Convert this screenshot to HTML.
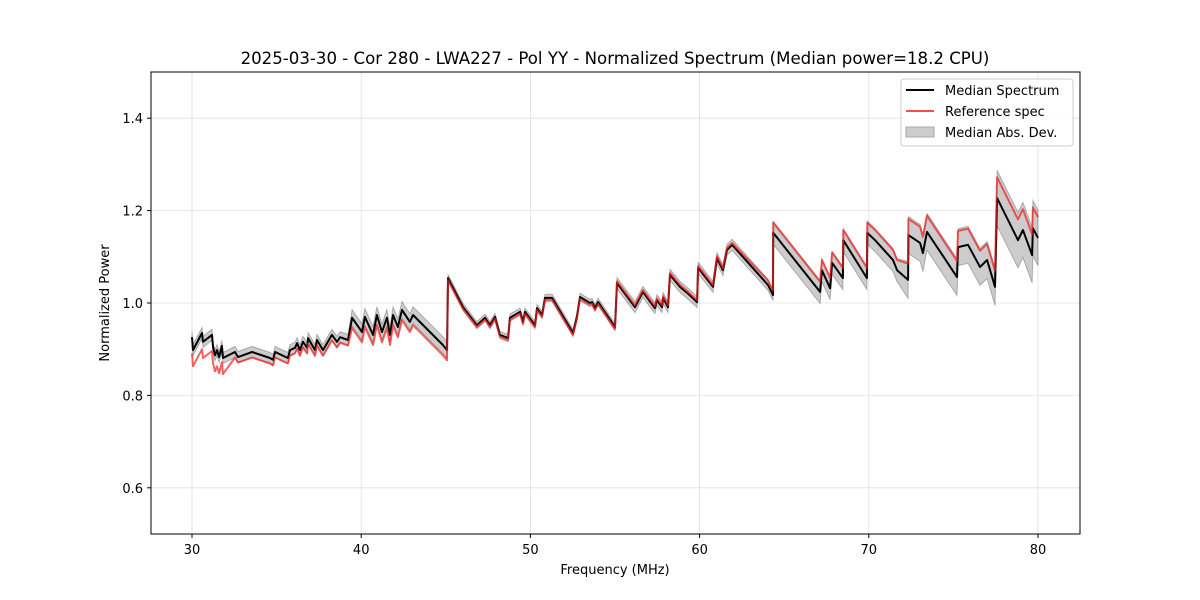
<!DOCTYPE html>
<html><head><meta charset="utf-8"><style>
body{margin:0;background:#fff}
svg{display:block;font-family:"DejaVu Sans","Liberation Sans",sans-serif}
</style></head><body>
<svg id="chart" width="1200" height="600" viewBox="0 0 1200 600">
<rect width="1200" height="600" fill="#fff"/>
<g id="grid"></g>
<g id="series"></g>
<rect x="151" y="72" width="929" height="462" fill="none" stroke="#000" stroke-width="1"/>
<g id="ticks"></g>
<text x="615" y="64" text-anchor="middle" font-size="16.6">2025-03-30 - Cor 280 - LWA227 - Pol YY - Normalized Spectrum (Median power=18.2 CPU)</text>
<text x="615" y="574" text-anchor="middle" font-size="13">Frequency (MHz)</text>
<text x="109" y="303" text-anchor="middle" font-size="13" transform="rotate(-90 109 303)">Normalized Power</text>
<g>
<rect x="901" y="79" width="172" height="67" rx="3" fill="#fff" fill-opacity="0.8" stroke="#ccc"/>
<g><line x1="906" y1="90" x2="934" y2="90" stroke="#000" stroke-width="2"/><text x="945" y="95" font-size="13">Median Spectrum</text></g>
<g><line x1="906" y1="111" x2="934" y2="111" stroke="#f05050" stroke-width="2"/><text x="945" y="116" font-size="13">Reference spec</text></g>
<g><rect x="906" y="127" width="28" height="10" fill="#ccc" stroke="#aaa"/><text x="945" y="137" font-size="13">Median Abs. Dev.</text></g>
</g>
</svg>
<script>
const freqs=[30.00,30.06,30.59,30.65,31.18,31.24,31.36,31.48,31.60,31.77,31.83,32.54,32.72,33.55,34.61,34.79,34.91,35.67,35.79,36.09,36.21,36.38,36.56,36.80,36.86,37.27,37.39,37.74,38.27,38.57,38.75,39.22,39.46,40.05,40.22,40.70,40.93,41.23,41.52,41.70,41.88,42.17,42.41,42.88,43.06,44.83,45.07,45.13,46.02,46.84,47.32,47.61,47.91,48.20,48.68,48.79,49.39,49.56,49.68,50.27,50.39,50.69,50.86,51.28,52.52,52.75,52.93,53.52,53.64,53.82,54.00,55.00,55.12,56.18,56.65,57.36,57.48,57.78,57.84,58.13,58.25,58.84,59.26,59.85,59.91,60.79,61.03,61.38,61.62,61.92,64.04,64.34,64.35,67.12,67.23,67.71,67.83,68.47,68.49,69.89,69.91,70.37,71.43,71.67,72.32,72.34,73.03,73.20,73.44,75.21,75.27,75.86,76.57,76.99,77.46,77.58,78.82,79.11,79.65,79.70,80.00];
const median=[0.926,0.898,0.935,0.916,0.931,0.905,0.887,0.898,0.883,0.907,0.881,0.894,0.883,0.894,0.881,0.877,0.894,0.881,0.898,0.903,0.913,0.898,0.916,0.903,0.924,0.898,0.920,0.898,0.931,0.916,0.926,0.920,0.968,0.937,0.970,0.931,0.974,0.937,0.968,0.931,0.974,0.948,0.985,0.959,0.974,0.909,0.898,1.054,0.991,0.952,0.968,0.952,0.970,0.931,0.924,0.968,0.981,0.959,0.981,0.952,0.989,0.974,1.011,1.011,0.935,0.970,1.013,1.000,1.002,0.989,1.002,0.948,1.043,0.991,1.024,0.989,1.006,0.991,1.011,0.991,1.061,1.035,1.022,1.002,1.076,1.035,1.097,1.071,1.115,1.126,1.039,1.017,1.152,1.024,1.071,1.032,1.087,1.054,1.136,1.054,1.152,1.136,1.093,1.071,1.050,1.147,1.130,1.108,1.154,1.056,1.121,1.126,1.078,1.093,1.035,1.227,1.136,1.158,1.104,1.162,1.141];
const reference=[0.891,0.863,0.900,0.881,0.896,0.870,0.852,0.863,0.848,0.872,0.846,0.882,0.871,0.882,0.869,0.865,0.882,0.869,0.886,0.891,0.901,0.886,0.904,0.891,0.912,0.886,0.908,0.886,0.919,0.904,0.914,0.908,0.946,0.915,0.948,0.909,0.952,0.915,0.946,0.909,0.952,0.926,0.963,0.937,0.952,0.887,0.876,1.050,0.987,0.948,0.964,0.948,0.966,0.927,0.920,0.964,0.977,0.955,0.977,0.948,0.985,0.970,1.007,1.007,0.931,0.966,1.009,0.996,0.998,0.985,0.998,0.944,1.047,0.995,1.028,0.993,1.010,0.995,1.015,0.995,1.065,1.039,1.026,1.006,1.080,1.039,1.101,1.075,1.119,1.130,1.049,1.027,1.174,1.046,1.093,1.054,1.109,1.076,1.158,1.076,1.174,1.158,1.115,1.093,1.085,1.182,1.165,1.143,1.189,1.091,1.156,1.161,1.113,1.128,1.070,1.272,1.181,1.203,1.149,1.207,1.186];
const mad=[0.012,0.012,0.012,0.012,0.012,0.012,0.012,0.012,0.012,0.012,0.012,0.012,0.012,0.012,0.012,0.012,0.012,0.012,0.012,0.012,0.012,0.012,0.012,0.012,0.012,0.012,0.012,0.012,0.012,0.012,0.012,0.012,0.018,0.018,0.018,0.018,0.018,0.018,0.018,0.018,0.018,0.018,0.018,0.018,0.018,0.018,0.018,0.008,0.008,0.008,0.008,0.008,0.008,0.008,0.008,0.008,0.008,0.008,0.008,0.008,0.008,0.008,0.008,0.008,0.008,0.008,0.008,0.008,0.008,0.008,0.008,0.008,0.012,0.012,0.012,0.012,0.012,0.012,0.012,0.012,0.012,0.012,0.012,0.012,0.012,0.012,0.012,0.012,0.012,0.012,0.012,0.012,0.025,0.025,0.025,0.025,0.025,0.025,0.025,0.025,0.025,0.025,0.025,0.025,0.04,0.04,0.04,0.04,0.04,0.04,0.04,0.04,0.04,0.04,0.04,0.06,0.06,0.06,0.06,0.06,0.06];
const xTicks=[30,40,50,60,70,80];
const yTicks=[0.6,0.8,1.0,1.2,1.4];
const yTickLabels=["0.6","0.8","1.0","1.2","1.4"];

const NS='http://www.w3.org/2000/svg';
const X=f=>192+(f-30)*(1038-192)/50;
const Y=v=>534-(v-0.5)*462;
function mk(tag,attrs,parent){const e=document.createElementNS(NS,tag);for(const k in attrs)e.setAttribute(k,attrs[k]);parent.appendChild(e);return e;}
const grid=document.getElementById('grid'),ticks=document.getElementById('ticks'),ser=document.getElementById('series');
xTicks.forEach(t=>{
  const g=mk('line',{x1:X(t),x2:X(t),y1:72,y2:534,stroke:'#e0e0e0','stroke-width':0.8},grid);
  
  
  mk('line',{x1:X(t),x2:X(t),y1:534,y2:538,stroke:'#000'},ticks);
  const l=mk('text',{x:X(t),y:554,'text-anchor':'middle','font-size':13},ticks);
  l.textContent=t;
  
  
});
yTicks.forEach((t,i)=>{
  const g=mk('line',{x1:151,x2:1080,y1:Y(t),y2:Y(t),stroke:'#e0e0e0','stroke-width':0.8},grid);
  
  
  mk('line',{x1:147,x2:151,y1:Y(t),y2:Y(t),stroke:'#000'},ticks);
  const l=mk('text',{x:143,y:Y(t)+5,'text-anchor':'end','font-size':13},ticks);
  l.textContent=yTickLabels[i];
  
  
});
let up=freqs.map((f,i)=>X(f).toFixed(1)+','+Y(median[i]+mad[i]).toFixed(1));
let dn=freqs.map((f,i)=>X(f).toFixed(1)+','+Y(median[i]-mad[i]).toFixed(1)).reverse();
const band=mk('polygon',{points:up.concat(dn).join(' '),fill:'rgba(0,0,0,0.2)',stroke:'rgba(0,0,0,0.25)','stroke-width':1},ser);


const ml=mk('polyline',{points:freqs.map((f,i)=>X(f).toFixed(1)+','+Y(median[i]).toFixed(1)).join(' '),fill:'none',stroke:'#000','stroke-width':2,'stroke-linejoin':'round'},ser);


const rl=mk('polyline',{points:freqs.map((f,i)=>X(f).toFixed(1)+','+Y(reference[i]).toFixed(1)).join(' '),fill:'none',stroke:'rgba(240,30,30,0.7)','stroke-width':2,'stroke-linejoin':'round'},ser);


</script>
</body></html>
